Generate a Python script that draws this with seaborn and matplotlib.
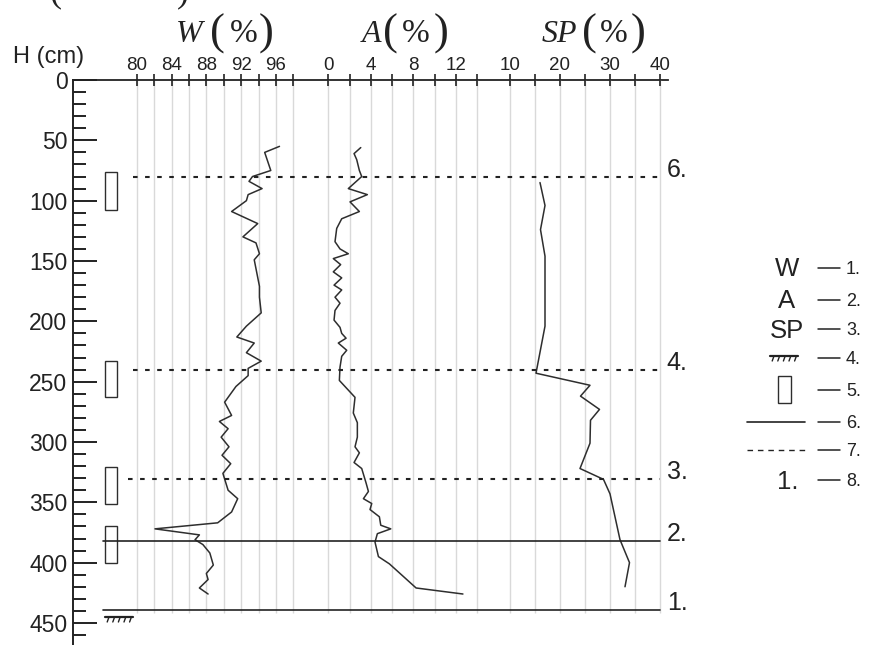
import numpy as np
import matplotlib
matplotlib.use("Agg")
import matplotlib.pyplot as plt
import matplotlib.transforms as mtransforms
from matplotlib.patches import Rectangle
from matplotlib.lines import Line2D
import seaborn as sns

# ---- values ----
depth_w = [55, 60, 75, 80, 84, 90, 95, 100, 109, 119, 130, 135, 144, 149, 160,
           171, 180, 193, 204, 213, 218, 226, 233, 239, 245, 254, 267, 278, 283,
           289, 296, 304, 311, 318, 326, 340, 347, 358, 367, 372, 377, 381, 385,
           392, 402, 409, 414, 421, 426]
w_pct = [96.4, 94.7, 95.4, 93.3, 92.9, 94.4, 92.8, 92.6, 90.9, 93.9, 92.2, 93.7,
         94.1, 93.5, 93.8, 94.1, 94.1, 94.3, 92.6, 91.5, 93.5, 92.6, 94.3, 92.8,
         92.8, 91.4, 90.1, 90.9, 89.5, 90.5, 89.7, 90.6, 89.8, 90.8, 89.9, 90.5,
         91.6, 90.9, 89.3, 82.1, 87.2, 86.7, 87.6, 88.4, 88.8, 88.0, 88.2, 87.2, 88.2]

depth_a = [56, 61, 66, 75, 80, 90, 95, 101, 109, 115, 123, 134, 140, 144, 148,
           153, 159, 164, 170, 174, 180, 185, 191, 199, 205, 210, 214, 218, 224,
           229, 238, 249, 257, 263, 276, 284, 296, 304, 309, 317, 322, 334, 341,
           347, 351, 356, 362, 369, 372, 376, 383, 395, 401, 421, 426]
a_pct = [3.05, 2.42, 2.67, 2.92, 3.14, 1.88, 3.67, 2.04, 2.92, 1.26, 0.79, 0.63,
         1.1, 1.88, 0.47, 1.16, 0.47, 1.26, 0.54, 1.26, 0.63, 1.1, 0.63, 0.54, 1.1,
         1.26, 1.67, 0.94, 1.73, 1.26, 1.1, 1.04, 1.88, 2.51, 2.35, 2.73, 2.73,
         2.51, 2.92, 2.42, 3.14, 3.55, 3.77, 3.3, 4.08, 3.92, 4.8, 4.93, 5.87,
         4.61, 4.39, 4.71, 5.74, 8.25, 12.65]

depth_sp = [85, 104, 124, 146, 204, 243, 253, 262, 273, 282, 301, 322, 331, 343,
            381, 400, 420]
sp_pct = [16.0, 17.0, 16.1, 17.0, 17.0, 15.2, 26.0, 24.1, 27.9, 26.1, 26.0, 24.0,
          28.7, 30.0, 32.0, 33.9, 33.0]

w_major = [80, 84, 88, 92, 96]
w_minor = [82, 86, 90, 94, 98]
a_major = [0, 4, 8, 12]
a_minor = [2, 6, 10, 14]
sp_major = [10, 20, 30, 40]
sp_minor = [15, 25, 35]
depth_major = list(range(0, 451, 50))
depth_minor = list(range(0, 461, 10))

boundary_depth = [80, 240, 331, 382, 439]
boundary_label = ["6.", "4.", "3.", "2.", "1."]
boundary_dashed = [True, True, True, False, False]

sample_top = [76, 233, 321, 370]
sample_bottom = [108, 263, 351, 400]

legend_keys = ["W", "A", "SP", "hatch", "box", "solid", "dashed", "1."]
legend_nums = ["1.", "2.", "3.", "4.", "5.", "6.", "7.", "8."]

# ---- style ----
sns.set_style("white")
plt.rcParams['font.family'] = ['Liberation Sans', 'DejaVu Sans']
INK = '#222222'
LINE = '#2e2e2e'
GRID = '#d9d9d9'

FW, FH = 870, 645
fig = plt.figure(figsize=(8.7, 6.45), dpi=100)


def fx(px):
    return px / FW


def fy(py):
    return 1 - py / FH


# axes box in pixels
AX_L, AX_R, AX_T, AX_B = 73, 668, 80, 645
PX_PER_CM = 1.2066


def span(v0, p0, v1, p1):
    k = (v1 - v0) / (p1 - p0)
    return v0 + (AX_L - p0) * k, v0 + (AX_R - p0) * k


ax = fig.add_axes([fx(AX_L), fy(AX_B), (AX_R - AX_L) / FW, (AX_B - AX_T) / FH])
ax_a = ax.twiny()
ax_sp = ax.twiny()

sns.lineplot(x=w_pct, y=depth_w, orient='y', sort=False, estimator=None,
             color=LINE, linewidth=1.1, ax=ax)
sns.lineplot(x=a_pct, y=depth_a, orient='y', sort=False, estimator=None,
             color=LINE, linewidth=1.1, ax=ax_a)
sns.lineplot(x=sp_pct, y=depth_sp, orient='y', sort=False, estimator=None,
             color=LINE, linewidth=1.1, ax=ax_sp)

scales = [
    (ax, w_major, w_minor, span(80, 136.7, 96, 276)),
    (ax_a, a_major, a_minor, span(0, 328.3, 12, 456)),
    (ax_sp, sp_major, sp_minor, span(10, 510, 40, 660)),
]
grid_end = 442
for axi, major, minor, lim in scales:
    axi.set_xlim(*lim)
    axi.set_xticks(major)
    axi.set_xticks(minor, minor=True)
    axi.xaxis.tick_top()
    axi.tick_params(axis='x', which='both', direction='inout', length=8,
                    width=1.2, color=INK, top=True, bottom=False,
                    labeltop=True, labelbottom=False, labelsize=13.5, pad=0,
                    labelcolor=INK)
    axi.vlines(major + minor, 0, grid_end, colors=GRID, lw=1, zorder=0)
    axi.set_xlabel('')
    axi.set_ylabel('')
    for s in axi.spines.values():
        s.set_visible(False)

ax.spines['left'].set_visible(True)
ax.spines['top'].set_visible(True)
ax.spines['left'].set_linewidth(1.4)
ax.spines['top'].set_linewidth(1.3)
ax.spines['left'].set_color(INK)
ax.spines['top'].set_color(INK)

ax.set_ylim((AX_B - AX_T) / PX_PER_CM, 0)
ax.set_yticks(depth_major)
ax.set_yticks(depth_minor, minor=True)
ax.tick_params(axis='y', which='major', direction='in', length=17, width=1.4,
               color=INK, labelsize=16.5, pad=4, labelcolor=INK, left=True)
ax.tick_params(axis='y', which='minor', direction='in', length=9, width=1.4,
               color=INK, left=True)

# boundaries with their numbers
blend = mtransforms.blended_transform_factory(ax_sp.transAxes, ax_sp.transData)
for d, lab, dashed in zip(boundary_depth, boundary_label, boundary_dashed):
    if dashed:
        start = (128 - AX_L) / (AX_R - AX_L) if d > 300 else (133 - AX_L) / (AX_R - AX_L)
        ax_sp.axhline(d, start, 0.987, color=INK, lw=1.5, ls=(0, (2.2, 3.6)))
    else:
        ax_sp.axhline(d, (103 - AX_L) / (AX_R - AX_L), 0.987, color=INK, lw=1.2)
    ax_sp.text(0.998, d, lab, transform=blend, fontsize=18, ha='left',
               va='baseline', color=INK)

# sampled intervals
blend_w = mtransforms.blended_transform_factory(ax.transAxes, ax.transData)
for top, bot in zip(sample_top, sample_bottom):
    ax.add_patch(Rectangle(((105 - AX_L) / (AX_R - AX_L), top),
                           12 / (AX_R - AX_L), bot - top, transform=blend_w,
                           fill=False, ec=LINE, lw=1.0, clip_on=False))


def hatch(x0, x1, y):
    fig.add_artist(Line2D([fx(x0), fx(x1)], [fy(y), fy(y)], color=INK, lw=1.6))
    for xi in np.arange(x0 + 4, x1, 5.6):
        fig.add_artist(Line2D([fx(xi), fx(xi - 1.8)], [fy(y), fy(y + 5)],
                              color=INK, lw=1.0))


hatch(105, 133, 617)

# column titles
titles = [("W", 189.5, 217, 244, 266),
          ("A", 372, 390, 416, 441),
          ("SP", 559.5, 589, 614, 638)]
for name, xn, xl, xp, xr in titles:
    fig.text(fx(xn), fy(42), name, fontsize=23, family='Liberation Serif',
             style='italic', ha='center', va='baseline', color=INK)
    fig.text(fx(xl), fy(34), "(", fontsize=32, family='Liberation Serif',
             ha='center', va='center', color=INK)
    fig.text(fx(xp), fy(42), "%", fontsize=24, family='Liberation Serif',
             ha='center', va='baseline', color=INK)
    fig.text(fx(xr), fy(34), ")", fontsize=32, family='Liberation Serif',
             ha='center', va='center', color=INK)

# clipped remains of a line above the figure
fig.text(fx(55), fy(9), "(", fontsize=26, family='Liberation Serif',
         ha='center', va='bottom', color=INK)
fig.text(fx(183), fy(9), ")", fontsize=26, family='Liberation Serif',
         ha='center', va='bottom', color=INK)

fig.text(fx(13), fy(63.3), "H (cm)", fontsize=17, ha='left', va='baseline',
         color=INK)

# legend on the right
rows_y = [268, 300, 329, 358, 390, 422, 450, 480]
for key, num, y in zip(legend_keys, legend_nums, rows_y):
    fig.add_artist(Line2D([fx(818), fx(840)], [fy(y), fy(y)], color=INK, lw=1.1))
    fig.text(fx(846), fy(y + 6), num, fontsize=13, ha='left', va='baseline',
             color=INK)
    if key in ("W", "A", "SP"):
        fig.text(fx(787), fy(y + 8.5), key, fontsize=18.5, ha='center',
                 va='baseline', color=INK)
    elif key == "1.":
        fig.text(fx(788), fy(y + 9), key, fontsize=18.5, ha='center',
                 va='baseline', color=INK)
    elif key == "hatch":
        hatch(770, 798, y - 2)
    elif key == "box":
        fig.add_artist(Rectangle((fx(778), fy(403)), fx(13), 27 / FH,
                                 fill=False, ec=LINE, lw=1.0))
    elif key == "solid":
        fig.add_artist(Line2D([fx(747), fx(805)], [fy(y), fy(y)], color=INK,
                              lw=1.2))
    elif key == "dashed":
        fig.add_artist(Line2D([fx(747), fx(805)], [fy(y), fy(y)], color=INK,
                              lw=1.0, ls=(0, (4, 3.5))))

plt.savefig("out.png", dpi=100)
plt.close()
